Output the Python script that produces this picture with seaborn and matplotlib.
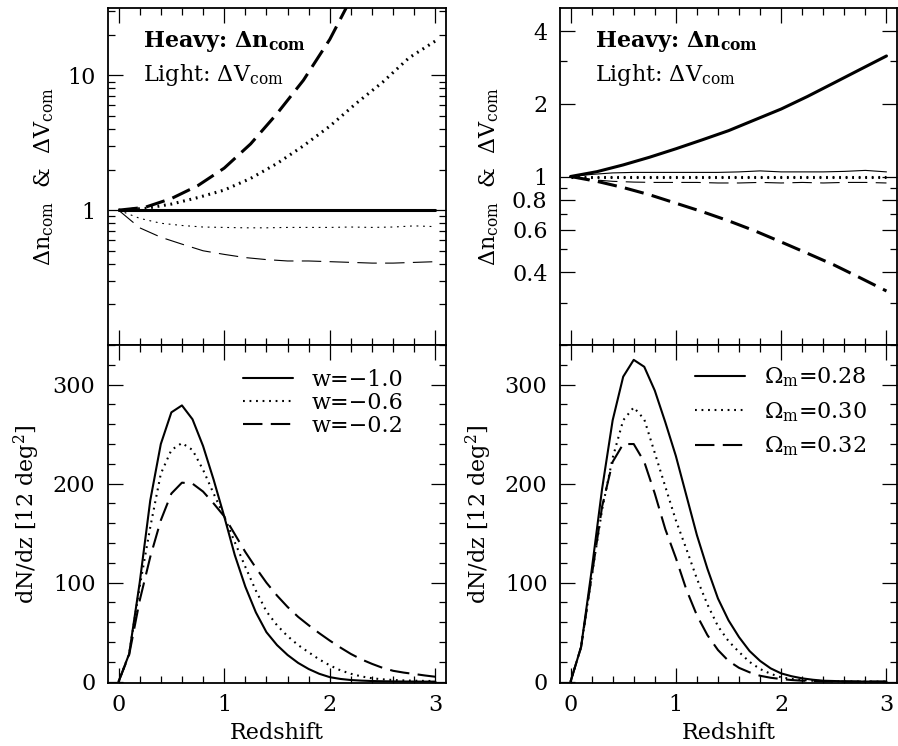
import matplotlib
matplotlib.use("Agg")
import matplotlib.pyplot as plt
import seaborn as sns
from matplotlib.ticker import MultipleLocator, FixedLocator, FixedFormatter, NullFormatter


# redshift grids
z_dndz = [0.0, 0.1, 0.2, 0.3, 0.4, 0.5, 0.6, 0.7, 0.8, 0.9, 1.0,
          1.1, 1.2, 1.3, 1.4, 1.5, 1.6, 1.7, 1.8, 1.9, 2.0,
          2.1, 2.2, 2.3, 2.4, 2.5, 2.6, 2.7, 2.8, 2.9, 3.0]
z_heavy = [0.0, 0.25, 0.5, 0.75, 1.0, 1.25, 1.5, 1.75, 2.0, 2.25, 2.5, 2.75, 3.0]
z_light = [0.0, 0.2, 0.4, 0.6, 0.8, 1.0, 1.2, 1.4, 1.6, 1.8, 2.0, 2.2, 2.4, 2.6, 2.8, 3.0]

# dN/dz, varying w
dndz_w10 = [0, 28, 100, 183, 240, 272, 279, 265, 238, 204, 167,
            128, 96, 70, 50, 37, 27, 19, 12.8, 8, 4.6,
            2.8, 1.7, 1.1, 0.7, 0.45, 0.3, 0.2, 0.15, 0.1, 0.1]
dndz_w06 = [0, 28, 96, 156, 210, 234, 241, 234, 214, 190, 167,
            141, 116, 92, 71, 57, 46, 37, 29.7, 22.5, 16.5,
            11.5, 8, 5.3, 3.5, 2.4, 1.7, 1.3, 1.0, 0.8, 0.7]
dndz_w02 = [0, 27, 82, 126, 163, 190, 201, 200, 192, 180, 167,
            149, 131, 115, 100, 87, 75.5, 65.5, 57, 49, 41.5,
            34.5, 28, 22.5, 18, 14, 11, 9.2, 7.8, 6.3, 5]

# dN/dz, varying Omega_m
dndz_om28 = [0, 35, 112, 195, 264, 308, 325, 318, 294, 262, 228,
             188, 148, 114, 84, 62, 45, 31, 21, 13.5, 8.4,
             5.5, 3.4, 2.0, 1.0, 0.7, 0.4, 0.25, 0.15, 0.1, 0.1]
dndz_om30 = [0, 35, 106, 174, 226, 264, 277, 265, 231, 197, 163,
             134, 104, 78, 56, 41, 30, 20, 12.8, 8, 4.4,
             2.8, 1.7, 1.0, 0.6, 0.4, 0.25, 0.15, 0.1, 0.1, 0.05]
dndz_om32 = [0, 35, 106, 177, 222, 240, 240, 222, 190, 154, 125,
             93, 67, 47, 32, 21, 14, 9.5, 6, 4, 2.7,
             1.7, 1.0, 0.7, 0.4, 0.3, 0.2, 0.1, 0.1, 0.05, 0.05]

# ratios, varying w (heavy = delta n_com, light = delta V_com)
w_heavy_solid = [1.0] * 13
w_heavy_dot = [1.0, 1.03, 1.11, 1.24, 1.41, 1.72, 2.22, 3.0, 4.2, 6.2, 8.9, 13.5, 18.0]
w_heavy_dash = [1.0, 1.05, 1.22, 1.52, 2.05, 3.1, 5.2, 9.2, 18.5, 44.0, 100.0]
w_light_solid = [1.0] * 16
w_light_dot = [1.0, 0.87, 0.80, 0.77, 0.75, 0.745, 0.74, 0.74, 0.745, 0.745,
               0.745, 0.75, 0.745, 0.75, 0.765, 0.755]
w_light_dash = [1.0, 0.74, 0.63, 0.56, 0.50, 0.47, 0.445, 0.43, 0.42, 0.42,
                0.415, 0.41, 0.405, 0.405, 0.41, 0.415]

# ratios, varying Omega_m
om_heavy_solid = [1.0, 1.047, 1.117, 1.202, 1.303, 1.419, 1.549, 1.718, 1.905,
                  2.148, 2.443, 2.780, 3.162]
om_heavy_dot = [1.0] * 13
om_heavy_dash = [1.0, 0.955, 0.90, 0.84, 0.775, 0.715, 0.655, 0.595, 0.535,
                 0.48, 0.43, 0.38, 0.335]
om_light_solid = [1.0, 1.02, 1.035, 1.04, 1.04, 1.04, 1.04, 1.04, 1.045, 1.055,
                  1.045, 1.045, 1.045, 1.05, 1.06, 1.045]
om_light_dot = [1.0] * 16
om_light_dash = [1.0, 0.97, 0.955, 0.948, 0.945, 0.945, 0.945, 0.94, 0.94, 0.945,
                 0.94, 0.945, 0.94, 0.945, 0.945, 0.94]

w_labels = ["w=\u22121.0", "w=\u22120.6", "w=\u22120.2"]
om_labels = [r"$\Omega_{\rm m}$=0.28", r"$\Omega_{\rm m}$=0.30", r"$\Omega_{\rm m}$=0.32"]


sns.set_theme(style="ticks")
plt.rcParams["font.family"] = ["DejaVu Serif"]
plt.rcParams["mathtext.fontset"] = "dejavuserif"
plt.rcParams["lines.scale_dashes"] = False
plt.rcParams["axes.linewidth"] = 1.3
plt.rcParams["axes.edgecolor"] = "black"
plt.rcParams["text.color"] = "black"
plt.rcParams["axes.labelcolor"] = "black"

FS = 16
LS = {"solid": "-", "dot": (0, (1.3, 3.4)), "dash": (0, (14, 6))}

fig = plt.figure(figsize=(8.98, 7.46), dpi=100)
W, H = 898.0, 746.0


def make_ax(x0, y0, x1, y1):
    return fig.add_axes([x0 / W, 1 - y1 / H, (x1 - x0) / W, (y1 - y0) / H])


ax_tl = make_ax(108, 8, 446, 345)
ax_bl = make_ax(108, 345, 446, 683)
ax_tr = make_ax(560, 8, 897, 345)
ax_br = make_ax(560, 345, 897, 683)


def draw(ax, x, y, style, lw, label=None):
    sns.lineplot(x=x, y=y, ax=ax, color="black", linewidth=lw,
                 linestyle=LS[style], errorbar=None, sort=False,
                 label=label, legend=False)


def style_ax(ax):
    ax.set_xlim(-0.1, 3.1)
    ax.xaxis.set_major_locator(MultipleLocator(1))
    ax.xaxis.set_minor_locator(MultipleLocator(0.2))
    ax.tick_params(which="both", direction="in", top=True, right=True,
                   colors="black", labelsize=FS, width=0.9)
    ax.tick_params(which="major", length=11)
    ax.tick_params(which="minor", length=5)
    ax.tick_params(axis="y", pad=9)
    ax.tick_params(axis="x", pad=8)
    for sp in ax.spines.values():
        sp.set_color("black")


# bottom panels
for ax, series, labels in [
    (ax_bl, [dndz_w10, dndz_w06, dndz_w02], w_labels),
    (ax_br, [dndz_om28, dndz_om30, dndz_om32], om_labels),
]:
    for vals, st, lab in zip(series, ["solid", "dot", "dash"], labels):
        draw(ax, z_dndz, vals, st, 1.5, lab)
    style_ax(ax)
    ax.set_ylim(-1.3, 340)
    ax.yaxis.set_major_locator(MultipleLocator(100))
    ax.yaxis.set_minor_locator(MultipleLocator(20))
    ax.set_xlabel("Redshift", fontsize=FS, labelpad=4)
    ax.set_ylabel(r"dN/dz [12 deg$^2$]", fontsize=FS, labelpad=8)

ax_bl.legend(loc="upper left", bbox_to_anchor=(0.40, 0.93), frameon=False,
             fontsize=FS, handlelength=2.25, handletextpad=0.85,
             labelspacing=0.05, borderpad=0, borderaxespad=0)
ax_br.legend(loc="upper left", bbox_to_anchor=(0.40, 0.94), frameon=False,
             fontsize=FS, handlelength=2.25, handletextpad=0.85,
             labelspacing=0.5, borderpad=0, borderaxespad=0)

# top left: varying w
draw(ax_tl, z_light, w_light_solid, "solid", 0.8)
draw(ax_tl, z_light, w_light_dot, "dot", 0.8)
draw(ax_tl, z_light, w_light_dash, "dash", 0.8)
draw(ax_tl, z_heavy, w_heavy_solid, "solid", 2.2)
draw(ax_tl, z_heavy, w_heavy_dot, "dot", 2.2)
draw(ax_tl, z_heavy[:len(w_heavy_dash)], w_heavy_dash, "dash", 2.2)

# top right: varying Omega_m
draw(ax_tr, z_light, om_light_solid, "solid", 0.8)
draw(ax_tr, z_light, om_light_dot, "dot", 0.8)
draw(ax_tr, z_light, om_light_dash, "dash", 0.8)
draw(ax_tr, z_heavy, om_heavy_solid, "solid", 2.2)
draw(ax_tr, z_heavy, om_heavy_dot, "dot", 2.2)
draw(ax_tr, z_heavy, om_heavy_dash, "dash", 2.2)

for ax in (ax_tl, ax_tr):
    ax.set_yscale("log")
    style_ax(ax)
    ax.tick_params(axis="x", labelbottom=False)
    ax.set_xlabel("")
    ax.set_ylabel(r"$\Delta\mathrm{n}_{\rm com}$  &  $\Delta\mathrm{V}_{\rm com}$",
                  fontsize=FS, labelpad=8)
    ax.yaxis.set_minor_formatter(NullFormatter())
    ax.text(0.103, 0.884, r"Heavy: $\mathbf{\Delta n_{com}}$", transform=ax.transAxes,
            fontsize=FS, fontweight="bold", va="baseline", ha="left")
    ax.text(0.103, 0.783, r"Light: $\Delta\mathrm{V}_{\rm com}$", transform=ax.transAxes,
            fontsize=FS, va="baseline", ha="left")

ax_tl.set_ylim(0.1, 31.6)
ax_tl.yaxis.set_major_locator(FixedLocator([1, 10]))
ax_tl.yaxis.set_major_formatter(FixedFormatter(["1", "10"]))
ax_tl.yaxis.set_minor_locator(FixedLocator(
    [0.2, 0.3, 0.4, 0.5, 0.6, 0.7, 0.8, 0.9, 2, 3, 4, 5, 6, 7, 8, 9, 20, 30]))

ax_tr.set_ylim(0.2, 5)
ax_tr.yaxis.set_major_locator(FixedLocator([0.4, 0.6, 0.8, 1, 2, 4]))
ax_tr.yaxis.set_major_formatter(FixedFormatter(["0.4", "0.6", "0.8", "1", "2", "4"]))
ax_tr.yaxis.set_minor_locator(FixedLocator([0.3, 0.5, 0.7, 0.9, 3]))

fig.savefig("out.png", dpi=100)
